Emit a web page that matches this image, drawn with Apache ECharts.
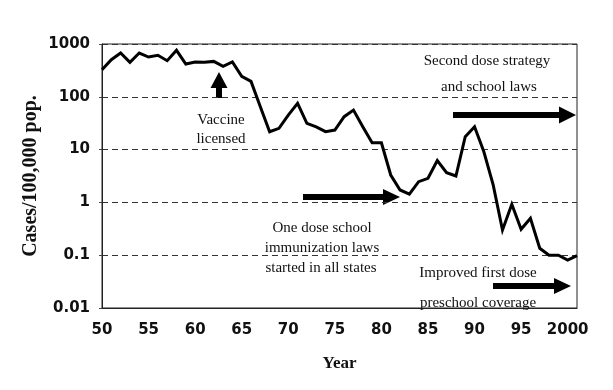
<!DOCTYPE html>
<html>
<head>
<meta charset="utf-8">
<script src="https://cdn.jsdelivr.net/npm/echarts@6/dist/echarts.min.js"></script>
<style>
html,body{margin:0;padding:0;background:#fff;}
#chart{width:613px;height:390px;}
</style>
</head>
<body>
<div id="chart"></div>
<script>
var years = [1950,1951,1952,1953,1954,1955,1956,1957,1958,1959,
             1960,1961,1962,1963,1964,1965,1966,1967,1968,1969,
             1970,1971,1972,1973,1974,1975,1976,1977,1978,1979,
             1980,1981,1982,1983,1984,1985,1986,1987,1988,1989,
             1990,1991,1992,1993,1994,1995,1996,1997,1998,1999,
             2000,2001];
var cases = [326,505,675,450,675,567,611,483,760,418,
             457,450,468,378,457,244,196,65,21.8,25.3,
             45,75,31.5,27,21.9,23.4,42,56,27,13.5,
             13.5,3.3,1.72,1.44,2.47,2.86,6.2,3.66,3.16,17.5,
             27,9.1,2.14,0.30,0.92,0.31,0.50,0.135,0.10,0.10,
             0.081,0.098];
var yTicks = [0.01,0.1,1,10,100,1000];
var xTickLabels = {1950:'50',1955:'55',1960:'60',1965:'65',1970:'70',1975:'75',1980:'80',1985:'85',1990:'90',1995:'95',2000:'2000'};

var data = years.map(function(y,i){return [y,cases[i]];});

function rightArrow(x1,x2,y,shaft,headLen,headH){
  return {type:'polygon',shape:{points:[
    [x1,y-shaft/2],[x2-headLen,y-shaft/2],[x2-headLen,y-headH/2],[x2,y],
    [x2-headLen,y+headH/2],[x2-headLen,y+shaft/2],[x1,y+shaft/2]]},
    style:{fill:'#000'}};
}
function upArrow(x,yTip,yBase,shaft,headLen,headW){
  return {type:'polygon',shape:{points:[
    [x,yTip],[x+headW/2,yTip+headLen],[x+shaft/2,yTip+headLen],[x+shaft/2,yBase],
    [x-shaft/2,yBase],[x-shaft/2,yTip+headLen],[x-headW/2,yTip+headLen]]},
    style:{fill:'#000'}};
}
function label(text,x,y){
  return {type:'text',x:x,y:y,style:{text:text,font:'15px "Liberation Serif"',fill:'#111',align:'center',verticalAlign:'middle'}};
}

var chart = echarts.init(document.getElementById('chart'),null,{renderer:'canvas'});
chart.setOption({
  animation:false,
  backgroundColor:'#fff',
  grid:{left:102,right:36,top:44,bottom:82,show:true,borderColor:'#222',borderWidth:1,backgroundColor:'transparent'},
  xAxis:{
    type:'value',min:1950,max:2001,interval:5,
    name:'Year',nameLocation:'middle',nameGap:47,nameMoveOverlap:false,
    nameTextStyle:{fontFamily:'Liberation Serif',fontWeight:'bold',fontSize:17,color:'#111'},
    axisLine:{show:true,lineStyle:{color:'#222',width:1}},
    axisTick:{show:false},
    splitLine:{show:false},
    axisLabel:{margin:15,fontFamily:'DejaVu Sans',fontWeight:'bold',fontSize:15,color:'#111',
      formatter:function(v){return xTickLabels[v]!==undefined?xTickLabels[v]:'';}}
  },
  yAxis:{
    type:'log',logBase:10,min:0.01,max:1000,
    name:'Cases/100,000 pop.',nameLocation:'middle',nameGap:61,nameRotate:90,nameMoveOverlap:false,
    nameTextStyle:{fontFamily:'Liberation Serif',fontWeight:'bold',fontSize:20,color:'#111'},
    axisLine:{show:true,lineStyle:{color:'#222',width:1}},
    axisTick:{show:true,length:3,lineStyle:{color:'#444'}},
    splitLine:{show:true,lineStyle:{color:'#333',width:1,type:[6,4]}},
    axisLabel:{margin:12,fontFamily:'DejaVu Sans',fontWeight:'bold',fontSize:15,color:'#111',
      formatter:function(v){
        for(var i=0;i<yTicks.length;i++){ if(Math.abs(v-yTicks[i])/yTicks[i]<1e-6) return String(yTicks[i]); }
        return '';
      }}
  },
  series:[{
    type:'line',data:data,symbol:'none',
    lineStyle:{color:'#000',width:3,join:'miter'},
    z:5
  }],
  graphic:[
    upArrow(219,72,98,6,16,17),
    label('Vaccine',221,120),
    label('licensed',221,139),
    label('Second dose strategy',487,61),
    label('and school laws',489,87),
    rightArrow(453,576,115,6,17,17),
    rightArrow(303,400,197,6,17,16),
    label('One dose school',322,228),
    label('immunization laws',322,248),
    label('started in all states',321,268),
    label('Improved first dose',478,273),
    rightArrow(493,571,286,6,17,16),
    label('preschool coverage',478,303)
  ]
});
</script>
</body>
</html>
